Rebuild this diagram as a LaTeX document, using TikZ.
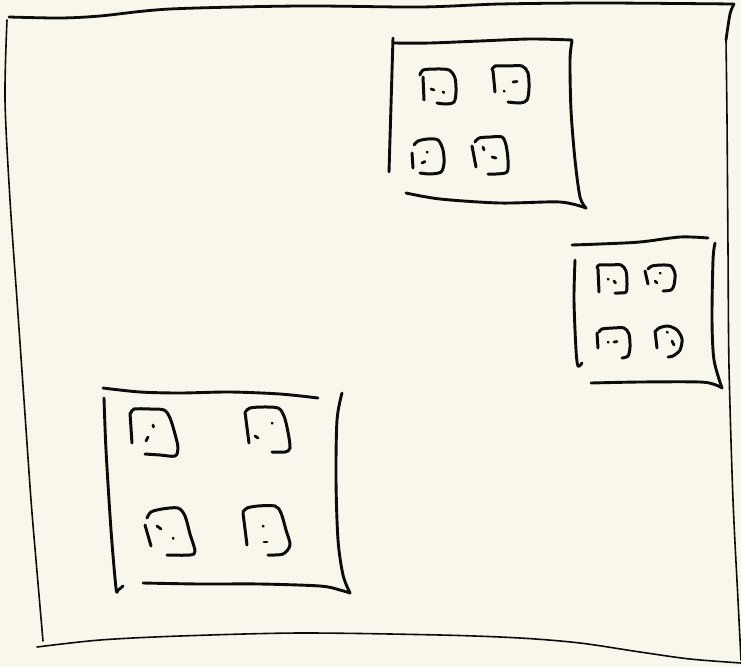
\documentclass[tikz,border=0pt]{standalone}
\usepackage{tikz}
\definecolor{paper}{RGB}{249,247,236}
\definecolor{ink}{RGB}{12,12,12}
\tikzset{
  frameline/.style={
    draw=ink, line width=1.6pt, line cap=round, line join=round
  },
  frametop/.style={
    draw=ink, line width=2.8pt, line cap=round, line join=round
  },
  boxline/.style={
    draw=ink, line width=2.9pt, line cap=round, line join=round
  },
  faceline/.style={
    draw=ink, line width=3pt, line cap=round, line join=round
  },
  facedot/.style={
    draw=ink, line width=2.8pt, line cap=round
  }
}
\begin{document}
\begin{tikzpicture}[x=1pt, y=-1pt]

  % ── Paper ─────────────────────────────────────────────────────────────────
  \fill[paper] (0,0) rectangle (741,667);
  \useasboundingbox (0,0) rectangle (741,667);

  % ── Outer frame ───────────────────────────────────────────────────────────
  \draw[frametop] plot[smooth] coordinates {(9,17) (60,18) (100,16) (170,9)
    (300,6) (420,7) (500,4) (600,3) (734,4)};
  \draw[frameline] plot[smooth] coordinates {(7,20) (5,100) (10,200) (17,300)
    (24,400) (31,500) (36,560) (43,641)};
  \draw[frametop] plot[smooth] coordinates {(734,4) (730,14) (726,40)};
  \draw[frameline] plot[smooth] coordinates {(726,40) (727,120) (728,250)
    (729,367) (733,500) (738,600) (741,660)};
  \draw[frameline] plot[smooth] coordinates {(37,647) (100,640) (180,636)
    (300,633) (440,635) (520,638) (580,643) (640,652) (690,659) (741,663)};

  % ── Top right box ─────────────────────────────────────────────────────────
  \draw[boxline] plot[smooth] coordinates {(393,43) (430,43) (480,41) (530,39) (572,40)};
  \draw[boxline] (393,38) -- (389,172);
  \draw[boxline] plot[smooth] coordinates {(572,41) (570,60) (571,110) (575,160)
    (580,197) (586,208)};
  \draw[boxline] plot[smooth] coordinates {(406,193) (440,199) (500,203)
    (560,202) (586,208)};

  \draw[faceline] (423,77) -- (424,100);
  \draw[faceline] plot[smooth] coordinates {(420,75) (423,70) (436,69) (449,70) (455,78)
    (456,92) (454,102) (446,104) (437,103)};
  \draw[facedot] (431,89) -- (434,90);
  \draw[facedot] (443,92) -- (444,92.5);

  \draw[faceline] (493,71) -- (495,92);
  \draw[faceline] plot[smooth] coordinates {(492,70) (495,66) (508,66) (522,66) (528,73)
    (529,88) (527,100) (520,103) (508,102)};
  \draw[facedot] (513,82) -- (517,81.5);
  \draw[facedot] (504,91) -- (504.5,91.5);

  \draw[faceline] (412,153) -- (413,168);
  \draw[faceline] plot[smooth] coordinates {(414,145) (418,141) (428,139) (438,140) (443,150)
    (444,163) (441,172) (430,174) (420,173)};
  \draw[facedot] (427,152) -- (427.5,152.5);
  \draw[facedot] (422,163) -- (425,161.5);

  \draw[faceline] (472,146) -- (476,167);
  \draw[faceline] plot[smooth] coordinates {(475,142) (479,138) (490,137) (502,137) (506,145)
    (508,160) (507,172) (496,174) (488,174)};
  \draw[facedot] (483,147) -- (484,150);
  \draw[facedot] (492,157) -- (496,158);

  % ── Middle right box ──────────────────────────────────────────────────────
  \draw[boxline] plot[smooth] coordinates {(572,245) (600,244) (640,242)
    (680,237) (708,238)};
  \draw[boxline] plot[smooth] coordinates {(575,260) (574,300) (576,350)
    (578,366) (582,363)};
  \draw[boxline] plot[smooth] coordinates {(715,243) (713,260) (712,320)
    (714,360) (722,388)};
  \draw[boxline] plot[smooth] coordinates {(591,383) (640,382) (700,382)
    (716,385) (722,388)};

  \draw[faceline] (598,269) -- (599,292);
  \draw[faceline] plot[smooth] coordinates {(597,268) (599,265) (610,265) (621,265) (626,271)
    (627,284) (626,292) (619,293) (615,293)};
  \draw[facedot] (608,279) -- (608.5,279.5);
  \draw[facedot] (614,281) -- (615.5,283);

  \draw[faceline] (645,271) -- (648,284);
  \draw[faceline] plot[smooth] coordinates {(648,269) (652,266) (662,265) (671,266) (675,274)
    (674,285) (671,290) (663,291)};
  \draw[facedot] (660,273) -- (660.5,273.5);
  \draw[facedot] (655,281) -- (657,283);

  \draw[faceline] (597,333) -- (598,348);
  \draw[faceline] plot[smooth] coordinates {(599,332) (602,329) (613,328) (624,328) (629,334)
    (630,347) (628,356) (622,358)};
  \draw[facedot] (608,342) -- (608.5,342.5);
  \draw[facedot] (614,342) -- (617,341.5);

  \draw[faceline] (655,331) -- (657,348);
  \draw[faceline] plot[smooth] coordinates {(656,331) (659,328) (668,326) (677,330) (682,339)
    (680,350) (673,356) (668,357)};
  \draw[facedot] (667,332) -- (667.5,332.5);
  \draw[facedot] (672,341) -- (674,345);

  % ── Bottom left box ───────────────────────────────────────────────────────
  \draw[boxline] plot[smooth] coordinates {(103,388) (140,392) (180,393)
    (230,392) (280,394) (318,398)};
  \draw[boxline] plot[smooth] coordinates {(104,398) (106,450) (111,530)
    (116,588) (118,590) (123,586)};
  \draw[boxline] plot[smooth] coordinates {(342,393) (337,420) (336,480)
    (338,540) (343,575) (350,593)};
  \draw[boxline] plot[smooth] coordinates {(143,583) (200,584) (260,584)
    (320,586) (340,590) (350,593)};

  \draw[faceline] (130,413) -- (132,443);
  \draw[faceline] plot[smooth] coordinates {(131,413) (134,409) (150,409) (164,410) (170,418)
    (175,434) (178,448) (175,456) (160,455) (145,454)};
  \draw[facedot] (153,425) -- (153.5,427);
  \draw[facedot] (146,441) -- (148,437);

  \draw[faceline] (245,412) -- (249,443);
  \draw[faceline] plot[smooth] coordinates {(246,411) (250,408) (262,407) (278,408) (284,416)
    (288,432) (290,448) (285,452) (272,452)};
  \draw[facedot] (272,423) -- (272.5,423.5);
  \draw[facedot] (255,436) -- (258,438);

  \draw[faceline] (145,525) -- (151,546);
  \draw[faceline] plot[smooth] coordinates {(147,518) (151,512) (162,509) (178,508) (185,516)
    (190,534) (195,551) (190,555) (167,555)};
  \draw[facedot] (157,526) -- (161,529);
  \draw[facedot] (173,538) -- (173.5,538.5);

  \draw[faceline] (243,513) -- (247,545);
  \draw[faceline] plot[smooth] coordinates {(243,512) (247,508) (258,506) (275,506) (281,513)
    (286,530) (290,545) (283,554) (268,555)};
  \draw[facedot] (263,526) -- (263.5,526.5);
  \draw[facedot] (264,542) -- (267,542);

\end{tikzpicture}
\end{document}
